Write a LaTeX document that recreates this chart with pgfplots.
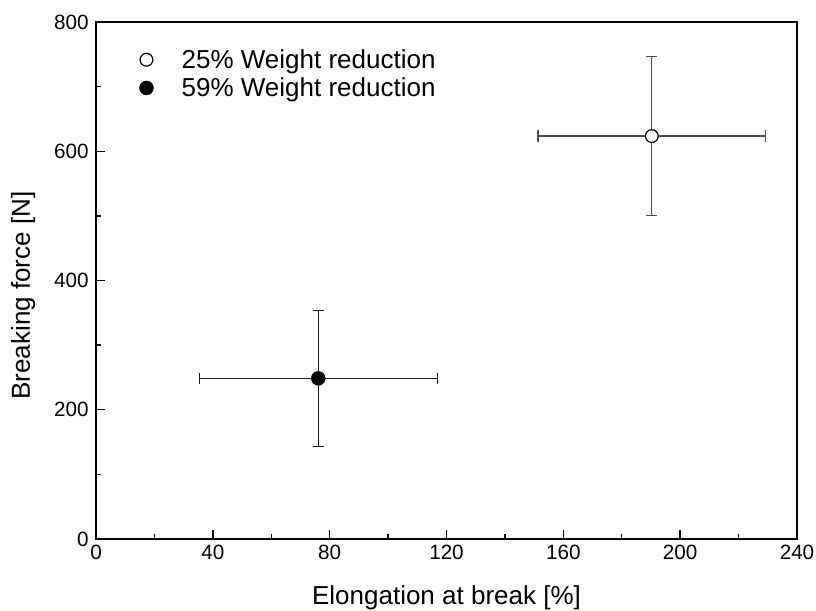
\documentclass[border=0pt]{standalone}
\usepackage{pgfplots}
\pgfplotsset{compat=1.18}
\usepackage{fontspec}
\setmainfont{Liberation Sans}

\definecolor{barA}{HTML}{4D4D4D}
\definecolor{barB}{HTML}{1A1A1A}

\begin{document}
\begin{tikzpicture}
\begin{axis}[
    scale only axis,
    width=525.75pt,
    height=387.75pt,
    xmin=0, xmax=240,
    ymin=0, ymax=800,
    xtick={0,40,80,120,160,200,240},
    xticklabels={0,40,80,120,160,200,240},
    ytick={0,200,400,600,800},
    yticklabels={0,200,400,600,800},
    minor x tick num=1,
    minor y tick num=1,
    tick align=inside,
    xtick pos=bottom,
    ytick pos=left,
    major tick length=7pt,
    minor tick length=3.5pt,
    every tick/.style={black, line width=1.1pt},
    axis line style={line width=1.5pt},
    tick label style={font=\fontsize{15.5}{18}\selectfont},
    xticklabel style={yshift=-1pt},
    yticklabel style={xshift=-2pt},
    xlabel={Elongation at break [\%]},
    ylabel={Breaking force [N]},
    label style={font=\fontsize{19.5}{23}\selectfont},
    xlabel style={at={(rel axis cs:0.5,-0.114)}, anchor=center},
    ylabel style={at={(rel axis cs:-0.104,0.471)}, anchor=center},
    legend style={draw=none, fill=none, at={(rel axis cs:0.056,0.958)}, anchor=north west,
        font=\fontsize{19.5}{23}\selectfont, row sep=1.5pt},
    legend cell align=left,
    legend image code/.code={\draw[#1] plot coordinates {(0.1cm,0cm)};\path (0cm,0cm) (0.95cm,0cm);},
]
% error bars first, marks on top
\addplot[only marks, mark=none, forget plot,
    error bars/.cd, x dir=both, x explicit, y dir=both, y explicit,
    error mark=|,
    error bar style={line width=0.95pt, barA},
    error mark options={line width=0.95pt, barA, mark size=4.2pt}]
    coordinates {(190.3,623.5) +- (39.0,123.0)};
\addplot[only marks, mark=none, forget plot,
    error bars/.cd, x dir=both, x explicit, y dir=both, y explicit,
    error mark=|,
    error bar style={line width=0.95pt, barB},
    error mark options={line width=0.95pt, barB, mark size=4.2pt}]
    coordinates {(76.1,248.5) +- (40.7,105.0)};
\addplot[only marks, mark=*, mark size=4.8pt, mark options={fill=white, line width=0.9pt, draw=black}]
    coordinates {(190.3,623.5)};
\addlegendentry{25\% Weight reduction}
\addplot[only marks, mark=*, mark size=5.2pt, mark options={fill=black, draw=black}]
    coordinates {(76.1,248.5)};
\addlegendentry{59\% Weight reduction}
\end{axis}
\pgfresetboundingbox
\path ([shift={(-72pt,-54pt)}]current axis.south west) rectangle ([shift={(14.25pt,16.5pt)}]current axis.north east);
\end{tikzpicture}
\end{document}
